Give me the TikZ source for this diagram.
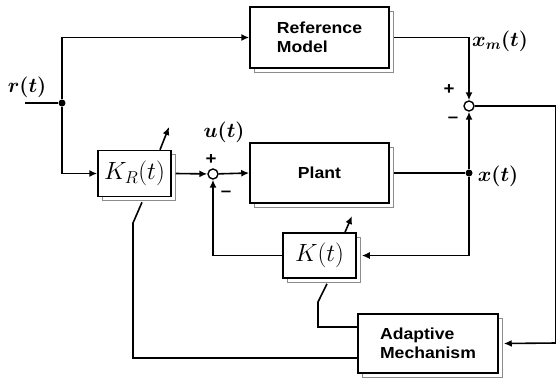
\documentclass[tikz,border=0pt]{standalone}
\usepackage{fontspec}
\usepackage{amsmath}
\newfontfamily\boxfont[FakeStretch=1.1]{Liberation Sans Bold}
\usetikzlibrary{arrows.meta,shadows}

\begin{document}
\begin{tikzpicture}[
    x=1pt, y=-1pt,
    >=Latex,
    flow/.style={line width=1.6pt, -{Latex[length=8pt,width=7pt]}},
    wire/.style={line width=1.6pt},
    block/.style={
        draw,
        line width=1.5pt,
        fill=white,
        inner sep=0pt,
        copy shadow={shadow xshift=4pt, shadow yshift=-4pt,
            draw=black!45, fill=white, line width=0.8pt}
    },
    sysbox/.style={
        block,
        font=\boxfont\fontsize{16}{19}\selectfont,
        align=left
    },
    gainbox/.style={
        block,
        minimum width=73pt,
        minimum height=46pt,
        font=\fontsize{24}{28}\selectfont
    },
    sumnode/.style={circle, draw, line width=1.4pt, fill=white,
        minimum size=10pt, inner sep=0pt},
    dotnode/.style={circle, fill, minimum size=7pt, inner sep=0pt},
    sig/.style={font=\fontsize{20}{24}\selectfont\boldmath},
    sign/.style={font=\boxfont\fontsize{17}{19}\selectfont, inner sep=0pt}
]
\useasboundingbox (0,0) rectangle (556,381);

% blocks
\node[sysbox, minimum width=139pt, minimum height=61pt] (refm) at (319.5,37.5)
{Reference\\Model};
\node[sysbox, minimum width=139pt, minimum height=60pt] (plant) at (319.5,173)
{Plant};
\node[gainbox] (kr) at (134.5,173.5) {$K_R(t)$};
\node[gainbox, minimum height=45pt] (kfb) at (319.5,255.5) {$K(t)$};
\node[sysbox, minimum width=140pt, minimum height=59pt] (adapt) at (428,343.5)
{Adaptive\\Mechanism};

% junctions
\node[sumnode] (sum1) at (213,174) {};
\node[sumnode] (sum2) at (469,106) {};
\node[dotnode] (rj) at (62,103) {};
\node[dotnode] (xj) at (469,173) {};

\coordinate (rin) at (25,103);
\coordinate (eout) at (556,106);
\coordinate (ein) at (556,343);
\coordinate (kbend) at (318,302);
\coordinate (krbend) at (133,223);
\coordinate (kradj) at (169,127);
\coordinate (kadj) at (352,216);

% signals
\node[sig] (rlbl) at (27,87) {$r(t)$};
\node[sig] (ulbl) at (224,132) {$u(t)$};
\node[sig] (xmlbl) at (500,41) {$x_m(t)$};
\node[sig] (xlbl) at (498,176) {$x(t)$};
\node[sign] (p1) at (211,160) {+};
\node[sign] (m1) at (226,194) {–};
\node[sign] (p2) at (449,90) {+};
\node[sign] (m2) at (453,120) {–};

% connectors
\draw[wire] (rin) -- (rj);
\draw[flow] (rj) |- (refm.west);
\draw[flow] (rj) |- (kr.west);
\draw[flow] ([xshift=4pt]kr.east) -- (sum1);
\draw[flow] (sum1) -- (plant.west);
\draw[wire] ([xshift=4pt]plant.east) -- (xj);
\draw[flow] (xj) -- (sum2);
\draw[flow] ([xshift=4pt]refm.east) -| (sum2);
\draw[flow] (xj) |- ([xshift=5pt]kfb.east);
\draw[flow] (kfb.west) -| (sum1);
\draw[wire] (sum2) -- (eout) -- (ein);
\draw[flow] (ein) -- ([xshift=5pt]adapt.east);
\draw[wire] ([yshift=16.5pt]adapt.west) -| (kbend)
    -- ([xshift=7.5pt,yshift=-5pt]kfb.south);
\draw[wire] ([yshift=-14.5pt]adapt.west) -| (krbend)
    -- ([xshift=7.5pt,yshift=-5pt]kr.south);
\draw[flow] ([xshift=25.5pt]kr.north) -- (kradj);
\draw[flow] ([xshift=25.5pt]kfb.north) -- (kadj);

\end{tikzpicture}
\end{document}
